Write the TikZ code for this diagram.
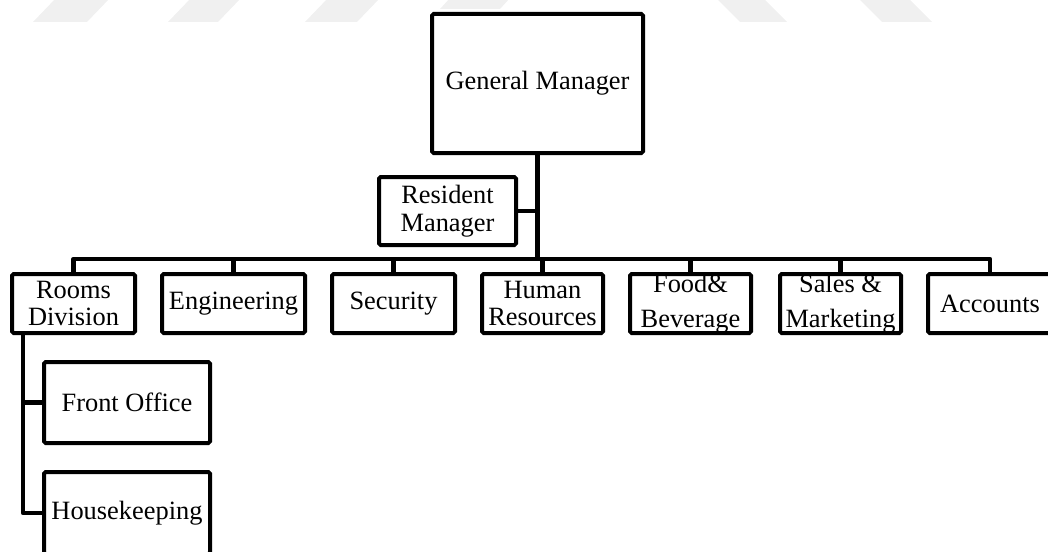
\documentclass[tikz,border=0pt]{standalone}
\usepackage{fontspec}
\setmainfont{Liberation Serif}
\usetikzlibrary{positioning,calc}
\tikzset{
  unitbox/.style={draw=black,line width=2pt,fill=white,rounded corners=0.8pt,
    inner sep=1pt,align=center,font=\fontsize{13.2}{13.8}\selectfont},
  loosebox/.style={unitbox,inner ysep=-1.3pt,font=\fontsize{13.2}{17.5}\selectfont},
  unitlink/.style={line width=2.3pt,line join=round},
  wmark/.style={fill=black!6,draw=none},
}

\begin{document}
\begin{tikzpicture}[x=0.5pt,y=-0.5pt]
  \useasboundingbox (0,0) rectangle (1048,551);
  % faint marks along the top edge
  \foreach \a/\b in {33/87,168/218,305/357}
    \fill[wmark] (\a,22) -- (\b,22) -- (\b+23,-2) -- (\a+23,-2) -- cycle;
  \fill[wmark] (440,9) -- (500,9) -- (510,-2) -- (450,-2) -- cycle;
  \foreach \a/\b in {740/787,882/932}
    \fill[wmark] (\a,22) -- (\b,22) -- (\b-24,-2) -- (\a-24,-2) -- cycle;

  % top of the chart
  \node[unitbox,minimum width=105.5pt,minimum height=69.5pt] (gm) at (537.5,83.5) {General Manager};
  \node[unitbox,minimum width=68.5pt,minimum height=34pt] (rm) at (447.5,211) {Resident\\Manager};

  % departments
  \node[unitbox,minimum width=61.5pt,minimum height=29.5pt] (rd)  at (73.5,303.5)  {Rooms\\Division};
  \node[unitbox,minimum width=71.5pt,minimum height=29.5pt] (eng) at (233.5,303.5) {Engineering};
  \node[unitbox,minimum width=61.5pt,minimum height=29.5pt] (sec) at (393.5,303.5) {Security};
  \node[unitbox,minimum width=60.5pt,minimum height=29.5pt] (hr)  at (542.5,303.5) {Human\\Resources};
  \node[loosebox,minimum width=60.5pt,minimum height=29.5pt] (fb) at (690.5,303.5) {Food\&\\Beverage};
  \node[loosebox,minimum width=60.5pt,minimum height=29.5pt] (sm) at (840.5,303.5) {Sales \&\\Marketing};
  \node[unitbox,minimum width=62pt,minimum height=29.5pt] (acc) at (990,303.5) {Accounts};

  % under rooms division
  \node[unitbox,minimum width=83pt,minimum height=40.5pt] (fo) at (127,402.5) {Front Office};
  \node[unitbox,minimum width=83pt,minimum height=41pt]   (hk) at (127,513)   {Housekeeping};

  \coordinate (bus) at (0,259);
  \coordinate (rail) at ([xshift=6.5pt]rd.south west);

  \draw[unitlink] (gm.south) -- (gm.south |- bus);
  \draw[unitlink] (rm.east) -- (rm.east -| gm.south);
  \draw[unitlink] (rd.north) |- (bus -| acc.north) -- (acc.north);
  \foreach \n in {eng,sec,hr,fb,sm}
    \draw[unitlink] (\n.north) -- (\n.north |- bus);
  \draw[unitlink] (rail) |- (hk.west);
  \draw[unitlink] (rail |- fo.west) -- (fo.west);
\end{tikzpicture}
\end{document}
